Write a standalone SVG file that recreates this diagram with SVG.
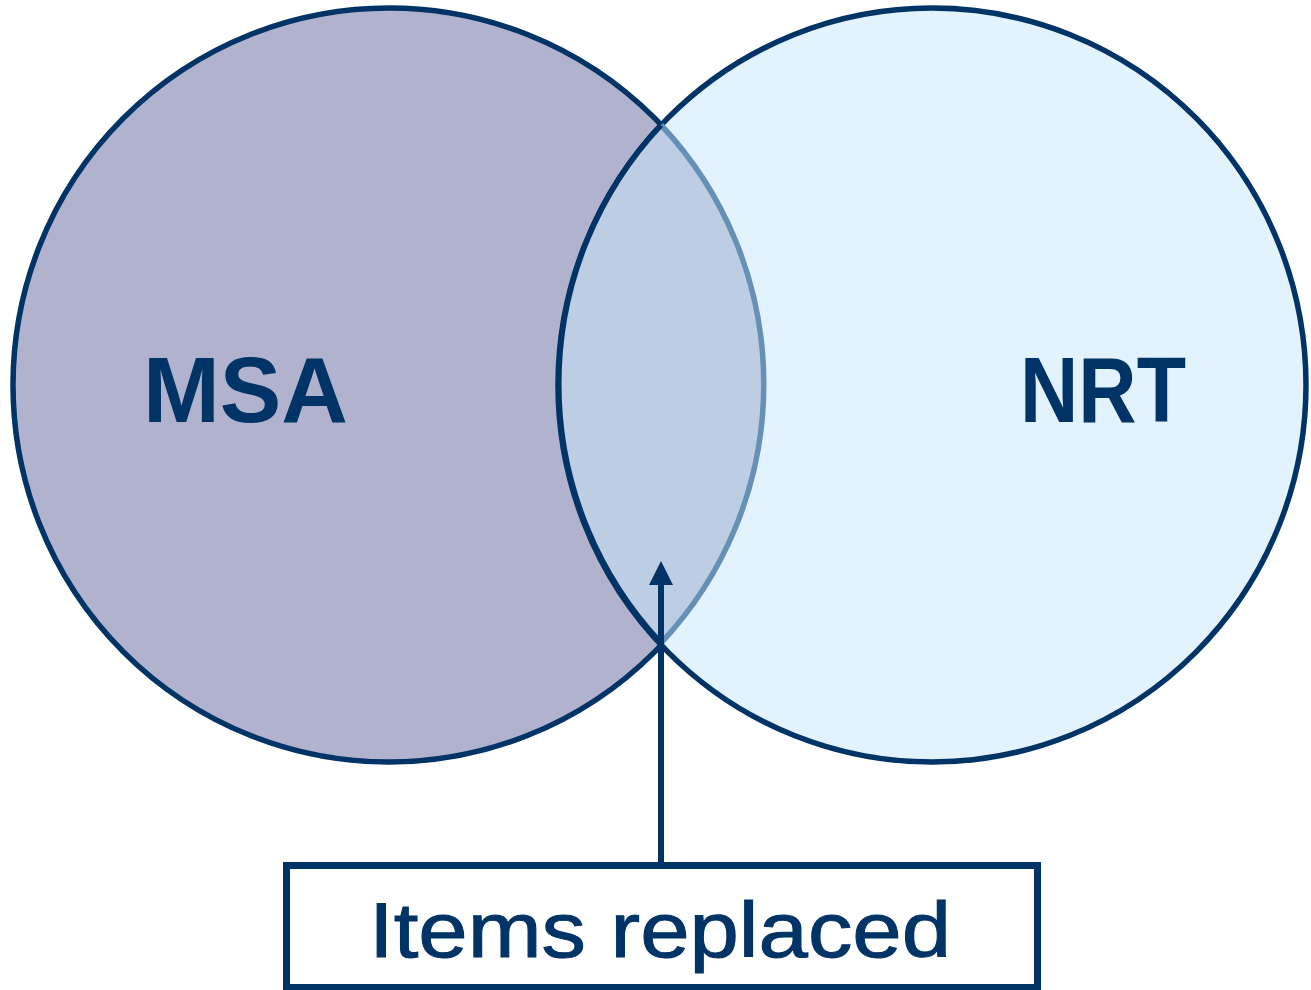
<svg xmlns="http://www.w3.org/2000/svg" width="1311" height="990" viewBox="0 0 1311 990">
<style>
.dark{stroke:#003366;stroke-width:5.5;}
.lbl{font-family:"Liberation Sans",Arial,sans-serif;fill:#003366;}
</style>
<defs>
<marker id="arr" markerUnits="userSpaceOnUse" markerWidth="24" markerHeight="24" viewBox="0 0 23 23" refX="0" refY="11.5" orient="auto">
<path d="M0,0 L23,11.5 L0,23 z" fill="#003366"/>
</marker>
</defs>
<rect width="1311" height="990" fill="#ffffff"/>
<g id="msa">
<ellipse cx="389" cy="385" rx="376" ry="377" fill="#B0B2CE" class="dark"/>
</g>
<g id="nrt">
<ellipse cx="932" cy="385" rx="374" ry="377" fill="#E2F3FE" class="dark"/>
</g>
<g id="overlap">
<path d="M661,125 A374,377 0 0 0 661,643 A376,377 0 0 0 661,125 z" fill="#BCCDE4"/>
<path d="M661,643 A376,377 0 0 0 661,125" fill="none" stroke="#6690B5" stroke-width="5.5"/>
<path d="M661,125 A374,377 0 0 0 661,643" fill="none" class="dark"/>
</g>
<g id="msa-label"><text class="lbl" x="143" y="422" font-size="93" font-weight="bold" textLength="205" lengthAdjust="spacingAndGlyphs">MSA</text></g>
<g id="nrt-label"><text class="lbl" x="1020" y="422" font-size="93" font-weight="bold" textLength="166" lengthAdjust="spacingAndGlyphs">NRT</text></g>
<g id="connectors">
<path d="M661,866 L661,585" fill="none" stroke="#003366" stroke-width="6" marker-end="url(#arr)"/>
</g>
<g id="items-replaced">
<rect x="286.5" y="865.5" width="751" height="122" fill="#ffffff" stroke="#003366" stroke-width="7"/>
<text class="lbl" x="369" y="957" font-size="78" stroke="#003366" stroke-width="1" textLength="582" lengthAdjust="spacingAndGlyphs">Items replaced</text>
</g>
</svg>
